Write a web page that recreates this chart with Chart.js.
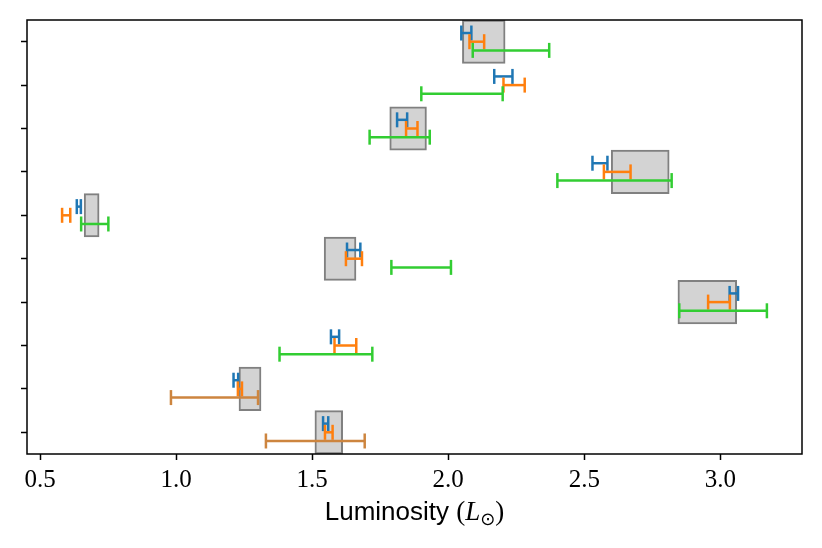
<!DOCTYPE html>
<html lang="en">
<head>
  <meta charset="UTF-8">
  <title>Luminosity ranges</title>
  <script src="https://cdn.jsdelivr.net/npm/chart.js"></script>
  <style>
    body {
      margin: 0;
      background: #fff;
    }

    canvas {
      display: block;
    }
  </style>
</head>
<body>
  <canvas id="lumChart" width="822" height="548"></canvas>

  <script>
    // Rows, bottom to top (the y ticks carry no labels)
    const rows = [0, 1, 2, 3, 4, 5, 6, 7, 8, 9];

    // Grey boxes (null = no box in that row)
    const boxLow  = [1.510, 1.231, null, 2.844, 1.544, 0.662, 2.599, 1.785, null, 2.052];
    const boxHigh = [1.612, 1.312, null, 3.060, 1.661, 0.717, 2.812, 1.920, null, 2.209];

    // Error bar ranges for the three estimates
    const blueLow    = [1.540, 1.211, 1.569, 3.034, 1.628, 0.635, 2.530, 1.812, 2.169, 2.048];
    const blueHigh   = [1.559, 1.228, 1.599, 3.065, 1.677, 0.650, 2.585, 1.849, 2.236, 2.085];
    const orangeLow  = [1.547, 1.227, 1.582, 2.955, 1.624, 0.581, 2.572, 1.845, 2.203, 2.078];
    const orangeHigh = [1.575, 1.242, 1.662, 3.035, 1.683, 0.611, 2.670, 1.887, 2.281, 2.132];
    const greenLow   = [1.330, 0.981, 1.380, 2.849, 1.791, 0.651, 2.401, 1.711, 1.901, 2.090];
    const greenHigh  = [1.693, 1.301, 1.721, 3.171, 2.010, 0.751, 2.821, 1.932, 2.200, 2.371];

    const xTicks = [0.5, 1.0, 1.5, 2.0, 2.5, 3.0];

    const BLUE = '#1f77b4';
    const ORANGE = '#ff7f0e';
    function greenColor(row) {
      return row < 2 ? '#cd853f' : '#32cd32'; // bottom two rows are drawn in peru
    }

    function errorBar(lo, hi, y, color, order) {
      return {
        type: 'line',
        data: [{ x: lo, y: y }, { x: hi, y: y }],
        borderColor: color,
        borderWidth: 2.5,
        pointStyle: 'line',
        pointRotation: 90,
        pointRadius: 7.5,
        pointHoverRadius: 7.5,
        pointBorderColor: color,
        pointBorderWidth: 2.5,
        pointHoverBorderWidth: 2.5,
        fill: false,
        tension: 0,
        order: order
      };
    }

    const datasets = [];
    rows.forEach(r => {
      datasets.push(errorBar(blueLow[r], blueHigh[r], r + 0.2, BLUE, 3));
      datasets.push(errorBar(orangeLow[r], orangeHigh[r], r, ORANGE, 2));
      datasets.push(errorBar(greenLow[r], greenHigh[r], r - 0.2, greenColor(r), 1));
    });

    datasets.push({
      type: 'bar',
      data: rows.filter(r => boxLow[r] !== null).map(r => ({ y: r, x: [boxLow[r], boxHigh[r]] })),
      backgroundColor: '#d3d3d3',
      borderColor: '#808080',
      borderWidth: 2,
      borderSkipped: false,
      barPercentage: 1,
      categoryPercentage: 1,
      order: 10
    });

    // Frame round the plot area, like matplotlib spines
    const frame = {
      id: 'frame',
      afterDraw(chart) {
        const a = chart.chartArea;
        const ctx = chart.ctx;
        ctx.save();
        ctx.strokeStyle = '#000';
        ctx.lineWidth = 1.5;
        ctx.strokeRect(a.left, a.top, a.right - a.left, a.bottom - a.top);
        ctx.restore();
      }
    };

    // x axis label: "Luminosity (L_sun)"
    const xLabel = {
      id: 'xLabel',
      afterDraw(chart) {
        const a = chart.chartArea;
        const ctx = chart.ctx;
        const base = 520;
        const parts = [
          { t: 'Luminosity ', f: '26px "Liberation Sans"', dy: 0 },
          { t: '(', f: '27px "Liberation Serif"', dy: 0 },
          { t: 'L', f: 'italic 27px "Liberation Serif"', dy: 0 },
          { t: '\u2299', f: '18px "DejaVu Sans"', dy: 5 },
          { t: ')', f: '27px "Liberation Serif"', dy: 0 }
        ];
        ctx.save();
        ctx.fillStyle = '#000';
        ctx.textBaseline = 'alphabetic';
        ctx.textAlign = 'left';
        let total = 0;
        parts.forEach(p => { ctx.font = p.f; p.w = ctx.measureText(p.t).width; total += p.w; });
        let x = (a.left + a.right) / 2 - total / 2;
        parts.forEach(p => {
          ctx.font = p.f;
          ctx.fillText(p.t, x, base + p.dy);
          x += p.w;
        });
        ctx.restore();
      }
    };

    const ctx = document.getElementById('lumChart').getContext('2d');
    const lumChart = new Chart(ctx, {
      type: 'bar',
      data: { datasets: datasets },
      options: {
        indexAxis: 'y',
        responsive: false,
        animation: false,
        events: [],
        layout: {
          padding: { top: 20, right: 20, left: 0, bottom: 0 }
        },
        plugins: {
          legend: { display: false },
          tooltip: { enabled: false }
        },
        scales: {
          x: {
            type: 'linear',
            min: 0.452,
            max: 3.30,
            offset: false,
            afterBuildTicks: s => { s.ticks = xTicks.map(v => ({ value: v })); },
            afterFit: s => { s.height = 94; },
            border: { display: false },
            grid: { offset: false, drawOnChartArea: false, tickLength: 6, tickWidth: 1.5, tickColor: '#000' },
            ticks: {
              color: '#000',
              padding: 5,
              autoSkip: false,
              maxRotation: 0,
              font: { family: 'Liberation Serif', size: 25 },
              callback: v => v.toFixed(1)
            }
          },
          y: {
            type: 'linear',
            min: -0.5,
            max: 9.5,
            offset: false,
            afterBuildTicks: s => { s.ticks = rows.map(v => ({ value: v })); },
            afterFit: s => { s.width = 27; },
            border: { display: false },
            grid: { offset: false, drawOnChartArea: false, tickLength: 6, tickWidth: 1.5, tickColor: '#000' },
            ticks: { display: false }
          }
        }
      },
      plugins: [frame, xLabel]
    });
  </script>
</body>
</html>
